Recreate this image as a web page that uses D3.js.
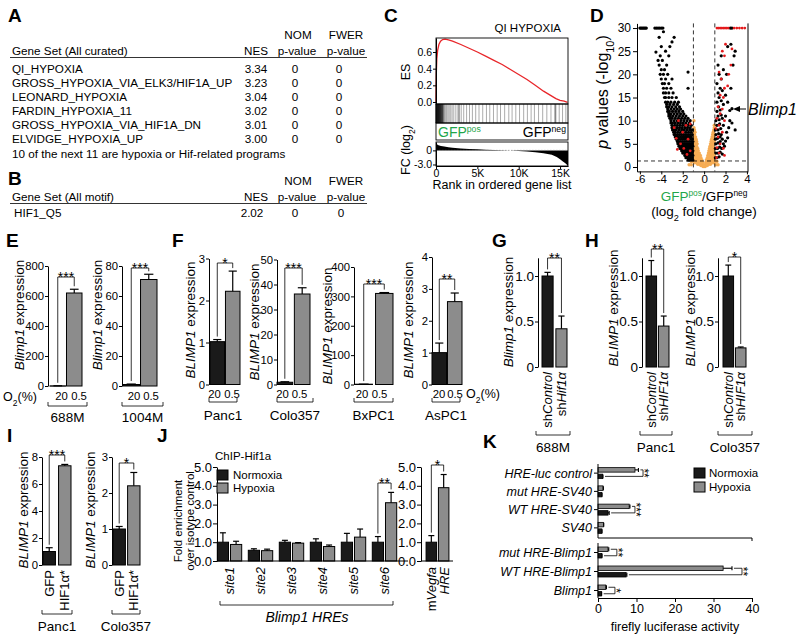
<!DOCTYPE html>
<html><head><meta charset="utf-8">
<script src="https://cdn.jsdelivr.net/npm/d3@7"></script>
<style>body{margin:0;background:#fff}svg{display:block}</style>
</head><body><svg id="fig" width="800" height="639"></svg>
<script>
// ---------------- DATA ----------------
// Panel A / B (GSEA tables)
const curatedSets = ["QI_HYPOXIA","GROSS_HYPOXIA_VIA_ELK3/HIF1A_UP","LEONARD_HYPOXIA","FARDIN_HYPOXIA_11","GROSS_HYPOXIA_VIA_HIF1A_DN","ELVIDGE_HYPOXIA_UP"];
const curatedNES = [3.34,3.23,3.04,3.02,3.01,3.00];
const curatedNOM = [0,0,0,0,0,0];
const curatedFWER = [0,0,0,0,0,0];
const curatedNote = "10 of the next 11 are hypoxia or Hif-related programs";
const motifSets = ["HIF1_Q5"];
const motifNES = [2.02];
const motifNOM = [0];
const motifFWER = [0];

// Panel C (GSEA enrichment plot)
const esRank  = [0,40,100,200,350,550,800,1100,1500,2000,3000,4000,5000,6000,7000,8000,9000,10000,11000,12000,13000,14000,14500,15000,15500,15900];
const esValue = [0,0.35,0.52,0.62,0.69,0.73,0.75,0.755,0.745,0.73,0.69,0.645,0.60,0.55,0.50,0.45,0.39,0.33,0.27,0.20,0.13,0.07,0.04,0.02,0.01,-0.005];
const hitRank = [10,30,55,80,110,140,170,200,235,270,300,340,380,420,460,500,550,600,660,720,790,870,960,1050,1180,1300,1450,1600,1780,1950,2150,2400,2650,2780,2800,3050,3350,3700,4050,4400,4800,5200,5650,6100,6500,6950,7400,7800,8300,8800,9200,9650,10100,10600,11050,11500,11900,12400,12900,13400,13900,14350,14450,14500,14900,15300,15700];
const fcRank  = [0,100,300,600,1000,1500,2000,3000,4000,5000,6000,7000,8000,9000,10000,11000,12000,13000,14000,14600,15000,15300,15600,15800,15960];
const fcValue = [1.6,1.3,1.1,0.95,0.8,0.65,0.55,0.4,0.3,0.22,0.15,0.08,0.02,-0.05,-0.13,-0.25,-0.4,-0.6,-0.95,-1.4,-1.9,-2.3,-2.7,-3.0,-3.3];

// Panel D (volcano) [log2FC, -log10 p]
const volcanoOrange = [
[-0.1,0.1],[0,0.1],[0.1,0.1],[-0.3,0.3],[-0.15,0.3],[0,0.3],[0.15,0.3],[0.3,0.3],
[-0.6,0.6],[-0.45,0.6],[-0.3,0.6],[-0.15,0.6],[0.15,0.6],[0.3,0.6],[0.45,0.6],[0.6,0.6],
[-1.4,0.5],[-1.2,0.5],[1.1,0.5],[1.3,0.5],
[-0.9,0.9],[-0.7,0.9],[-0.5,0.9],[-0.3,0.9],[-0.15,0.9],[0.15,0.9],[0.3,0.9],[0.5,0.9],[0.7,0.9],[0.9,0.9],
[-1.2,1.2],[-1.0,1.2],[-0.8,1.2],[-0.6,1.2],[-0.4,1.2],[-0.2,1.2],[0.2,1.2],[0.4,1.2],[0.6,1.2],[0.8,1.2],[1.0,1.2],[1.2,1.2],
[-0.95,1.6],[-0.75,1.6],[-0.55,1.6],[-0.35,1.6],[-0.22,1.6],[0.22,1.6],[0.35,1.6],[0.55,1.6],[0.75,1.6],[0.95,1.6],
[-0.95,2],[-0.8,2],[-0.65,2],[-0.5,2],[-0.3,2],[0.3,2],[0.5,2],[0.65,2],[0.8,2],[0.95,2],
[-0.95,2.5],[-0.8,2.5],[-0.65,2.5],[-0.5,2.5],[-0.35,2.5],[0.35,2.5],[0.5,2.5],[0.65,2.5],[0.8,2.5],[0.95,2.5],
[-0.95,3],[-0.8,3],[-0.65,3],[-0.45,3],[0.4,3],[0.55,3],[0.7,3],[0.85,3],[0.95,3],
[-0.9,3.5],[-0.75,3.5],[-0.55,3.5],[0.45,3.5],[0.6,3.5],[0.75,3.5],[0.9,3.5],
[-0.95,4],[-0.8,4],[-0.6,4],[0.5,4],[0.65,4],[0.8,4],[0.95,4],
[-0.9,4.5],[-0.7,4.5],[0.55,4.5],[0.7,4.5],[0.85,4.5],
[-0.95,5],[-0.8,5],[-0.65,5],[0.6,5],[0.75,5],[0.9,5],
[-0.85,5.5],[-0.7,5.5],[0.65,5.5],[0.8,5.5],[0.95,5.5],
[-0.9,6],[-0.75,6],[0.7,6],[0.85,6],
[-0.95,6.5],[-0.8,6.5],[0.75,6.5],[0.9,6.5],
[-0.9,7],[0.8,7],[0.95,7],[-0.95,7.5],[-0.85,7.5],[0.85,7.5],
[-0.9,8],[0.9,8],[-0.95,8.5],[0.95,8.5],[0.95,9],[-0.95,10]
];
const volcanoBlack = [
[-6.0,30],[-5.9,30],[-5.8,30],[-5.7,30],[-5.6,30],[-5.5,30],[-5.4,30],[-4.6,30],[-4.45,30],[-4.3,30],[-4.15,30],[-4.0,30],[-3.85,30],[-3.8,29.2],
[-4.2,28],[-2.8,28],[-3.0,27],[-3.2,26],[-4.0,26],[-3.6,25],[-4.5,24.8],[-3.3,24],[-4.1,24],[-3.9,23],[-4.3,23],[-3.5,22],[-4.2,22],[-3.7,21],[-4.0,21],
[-1.5,20.5],[-3.4,20],[-3.8,20],[-4.1,20],[-3.0,19],[-3.6,19],[-4.0,19],[-3.3,18],[-3.7,18],[-3.9,18],[-1.5,17],[-3.1,17],[-3.5,17],[-3.8,17],
[-2.9,16],[-3.3,16],[-3.6,16],[-3.8,16],[-2.6,15],[-3.0,15],[-3.3,15],[-3.6,15],[-3.7,15],
[-2.4,14],[-2.75,14],[-3.1,14],[-3.4,14],[-3.6,14],[-2.5,13.5],[-2.85,13.5],[-3.2,13.5],[-3.5,13.5],
[-2.3,13],[-2.65,13],[-3.0,13],[-3.3,13],[-3.5,13],[-2.2,12.5],[-2.5,12.5],[-2.8,12.5],[-3.1,12.5],[-3.4,12.5],
[-2.0,12],[-2.35,12],[-2.65,12],[-2.95,12],[-3.25,12],[-3.4,12],[-1.9,11.5],[-2.2,11.5],[-2.5,11.5],[-2.8,11.5],[-3.1,11.5],[-3.3,11.5],
[-1.7,11],[-2.0,11],[-2.3,11],[-2.6,11],[-2.9,11],[-3.15,11],[-3.3,11],[-1.5,10.5],[-1.8,10.5],[-2.1,10.5],[-2.4,10.5],[-2.7,10.5],[-3.0,10.5],[-3.2,10.5],
[-1.3,10],[-1.6,10],[-1.9,10],[-2.2,10],[-2.5,10],[-2.8,10],[-3.1,10],[-1.4,9.5],[-1.7,9.5],[-1.95,9.5],[-2.2,9.5],[-2.45,9.5],[-2.7,9.5],[-2.95,9.5],[-3.1,9.5],
[-1.2,9],[-1.5,9],[-1.75,9],[-2.0,9],[-2.25,9],[-2.5,9],[-2.75,9],[-3.0,9],[-1.3,8.5],[-1.55,8.5],[-1.8,8.5],[-2.05,8.5],[-2.3,8.5],[-2.55,8.5],[-2.8,8.5],[-3.0,8.5],
[-1.1,8],[-1.35,8],[-1.6,8],[-1.85,8],[-2.1,8],[-2.35,8],[-2.6,8],[-2.85,8],[-2.95,8],[-1.2,7.5],[-1.45,7.5],[-1.7,7.5],[-1.95,7.5],[-2.2,7.5],[-2.45,7.5],[-2.7,7.5],[-2.85,7.5],
[-1.1,7],[-1.3,7],[-1.5,7],[-1.7,7],[-1.9,7],[-2.1,7],[-2.3,7],[-2.5,7],[-2.7,7],[-2.8,7],[-1.2,6.5],[-1.4,6.5],[-1.6,6.5],[-1.8,6.5],[-2.0,6.5],[-2.2,6.5],[-2.4,6.5],[-2.6,6.5],[-2.7,6.5],
[-1.1,6],[-1.3,6],[-1.5,6],[-1.7,6],[-1.9,6],[-2.1,6],[-2.3,6],[-2.5,6],[-2.6,6],[-1.05,5.5],[-1.2,5.5],[-1.4,5.5],[-1.6,5.5],[-1.8,5.5],[-2.0,5.5],[-2.2,5.5],[-2.4,5.5],[-2.5,5.5],
[-1.1,5],[-1.3,5],[-1.5,5],[-1.7,5],[-1.9,5],[-2.1,5],[-2.3,5],[-2.45,5],[-1.05,4.5],[-1.2,4.5],[-1.35,4.5],[-1.5,4.5],[-1.65,4.5],[-1.8,4.5],[-1.95,4.5],[-2.1,4.5],[-2.25,4.5],[-2.35,4.5],
[-1.1,4],[-1.25,4],[-1.4,4],[-1.55,4],[-1.7,4],[-1.85,4],[-2.0,4],[-2.15,4],[-2.25,4],[-1.05,3.5],[-1.2,3.5],[-1.35,3.5],[-1.5,3.5],[-1.65,3.5],[-1.8,3.5],[-1.95,3.5],[-2.1,3.5],
[-1.1,3],[-1.25,3],[-1.4,3],[-1.55,3],[-1.7,3],[-1.85,3],[-2.0,3],[-1.05,2.5],[-1.2,2.5],[-1.35,2.5],[-1.5,2.5],[-1.65,2.5],[-1.8,2.5],
[-1.1,2],[-1.25,2],[-1.4,2],[-1.55,2],[-1.7,2],[-1.05,1.5],[-1.2,1.5],[-1.35,1.5],[-1.5,1.5],
[1.05,2],[1.2,2],[1.4,2.2],[1.1,3],[1.3,3],[1.5,3.2],[1.7,2.8],[1.05,4],[1.25,4],[1.45,4.3],[1.65,4],[1.9,4.5],[1.1,5],[1.3,5.2],[1.5,5.5],[1.8,5],[2.0,5.6],
[1.05,6],[1.25,6.2],[1.5,6.5],[1.7,6],[2.2,6.3],[1.1,7],[1.35,7.2],[1.6,7],[2.1,7.5],[1.05,8],[1.3,8],[1.55,8.3],[2.3,8.5],[2.9,8],[1.2,9],[1.45,9.3],[1.8,9],[2.6,9.5],
[1.1,10],[1.4,10.2],[1.7,10.5],[2.4,10],[1.3,11],[1.6,11.2],[2.0,11],[1.2,12],[1.5,12.3],[2.4,12.2],[2.6,12.6],[1.35,13],[1.8,13.5],[1.2,14],[1.6,14.3],[2.2,14],
[1.4,15],[2.0,15.5],[1.3,16],[1.7,16.5],[1.5,17],[2.5,17],[1.2,18],[1.6,19],[1.4,20],[2.1,20],[1.8,21],[1.3,22],[2.7,22],[2.8,24],[1.6,24],[2.9,25],[2.2,26],[2.5,26.5],[2.45,30],[2.6,30]
];
const volcanoRed = [
[1.2,30],[1.35,30],[1.5,30],[1.65,30],[1.8,30],[1.95,30],[2.1,30],[2.25,30],[2.8,30],[3.05,30],[3.3,30],[3.55,30],[3.8,30],
[2.0,26.5],[1.7,25],[2.6,25.5],[1.9,24],[2.5,22],[1.4,20.5],[2.3,20],[1.6,19],[1.9,17],[2.2,17.5],[1.5,15.5],[1.8,15],[1.3,13],[1.7,12.5],[1.5,11.5],[1.2,10.5],
[1.9,10],[1.4,9],[1.1,8.3],[1.7,7.5],[1.3,6.5],[1.5,5],[1.2,4.2],[1.8,4],[1.4,3],[1.9,2.5],[1.15,2],
[-1.3,9.3],[-2.4,10],[-1.7,9],[-2.0,7.5],[-2.6,6.2],[-1.5,6],[-2.2,5],[-1.9,4],[-1.3,3.5],[-2.8,8.5],[-1.6,2.7],[-2.5,3.8]
];

// Panels E-I (two-bar qPCR panels): means and SEM
const o2Levels = ["20","0.5"];
const e688Mean = [1.0,620], e688Sem = [0.5,25];
const e1004Mean = [1.0,71], e1004Sem = [0.3,3.5];
const fPanc1Mean = [1.02,2.22], fPanc1Sem = [0.05,0.48];
const fColoMean = [0.9,36.2], fColoSem = [0.2,2.5];
const fBxMean = [1.0,310], fBxSem = [0.3,3];
const fAsMean = [1.0,2.6], fAsSem = [0.3,0.27];
const gMean = [1.0,0.42], gSem = [0.04,0.14];
const hPanc1Mean = [1.0,0.45], hPanc1Sem = [0.17,0.11];
const hColoMean = [1.0,0.21], hColoSem = [0.12,0.01];
const iPanc1Mean = [1.0,7.35], iPanc1Sem = [0.28,0.1];
const iColoMean = [1.0,2.2], iColoSem = [0.07,0.37];

// Panel J (ChIP)
const jSites = ["site1","site2","site3","site4","site5","site6"];
const jNormoxia = [1.0,0.57,1.0,1.0,1.0,1.0];
const jNormoxiaSem = [0.5,0.08,0.1,0.18,0.47,0.3];
const jHypoxia = [0.88,0.55,0.95,0.77,1.27,3.1];
const jHypoxiaSem = [0.17,0.08,0.03,0.08,0.43,0.55];
const jVegfa = [1.0,3.9];
const jVegfaSem = [0.35,0.7];

// Panel K (luciferase)
const kUpper = ["HRE-luc control","mut HRE-SV40","WT HRE-SV40","SV40"];
const kLower = ["mut HRE-Blimp1","WT HRE-Blimp1","Blimp1"];
const kHypUpper = [9.6,1.3,8.1,1.4], kHypUpperSem = [0.9,0.1,0.2,0.1];
const kNorUpper = [1.2,1.0,2.6,1.0], kNorUpperSem = [0.1,0.05,0.3,0.05];
const kHypLower = [2.6,32.5,2.0], kHypLowerSem = [0.2,2.3,0.2];
const kNorLower = [1.0,7.3,0.9], kNorLowerSem = [0.05,0.2,0.05];
const kTicks = [0,10,20,30,40];

// ---------------- DRAWING ----------------
const FONT = "'Liberation Sans', Arial, Helvetica, sans-serif";
const svg = d3.select("#fig").attr("font-family", FONT);
svg.append("rect").attr("width",800).attr("height",639).attr("fill","#fff");
const BAR = ["#1a1a1a","#8c8c8c"];
const GREEN = "#1fa64a";

function rt(g,x,y,parts,o={}){
  const t = g.append("text").attr("x",x).attr("y",y).attr("font-size",o.fs||12)
    .attr("text-anchor",o.anchor||"start").attr("fill",o.fill||"#000");
  if(o.rot!=null) t.attr("transform",`rotate(${o.rot},${x},${y})`);
  if(o.dy) t.attr("dy",o.dy);
  if(o.weight) t.attr("font-weight",o.weight);
  if(o.italic) t.attr("font-style","italic");
  (typeof parts==="string"?[{t:parts}]:parts).forEach(p=>{
    const s=t.append("tspan").text(p.t);
    if(p.i) s.attr("font-style","italic");
    if(p.sub) s.attr("baseline-shift","sub").attr("font-size","68%");
    if(p.sup) s.attr("baseline-shift","super").attr("font-size","62%");
    if(p.fill) s.attr("fill",p.fill);
  });
  return t;
}
function styleAxis(ag,fs){
  ag.attr("font-size",fs).attr("font-family",FONT);
  ag.selectAll("path,line").attr("stroke","#000").attr("stroke-width",1);
  ag.selectAll("text").attr("fill","#000");
}
function line(g,x1,y1,x2,y2,w=1,dash=null,col="#000"){
  const l=g.append("line").attr("x1",x1).attr("y1",y1).attr("x2",x2).attr("y2",y2).attr("stroke",col).attr("stroke-width",w);
  if(dash) l.attr("stroke-dasharray",dash);
  return l;
}

// Panel letters
[["A",8,22],["B",8,185],["C",384,22],["D",590,22],["E",6,247],["F",172,247],["G",492,247],["H",585,247],["I",7,442],["J",157,442],["K",483,448]]
 .forEach(([t,x,y])=>rt(svg,x,y,t,{fs:19,weight:"bold"}));

// ---- Panel A & B ----
const gA = svg.append("g");
const fsT = 11.7;
function tableHeader(yTop, title){
  rt(gA,298,yTop,"NOM",{anchor:"middle",fs:fsT});
  rt(gA,346,yTop,"FWER",{anchor:"middle",fs:fsT});
  rt(gA,12,yTop+16,title,{fs:fsT});
  rt(gA,256,yTop+16,"NES",{anchor:"middle",fs:fsT});
  rt(gA,297,yTop+16,"p-value",{anchor:"middle",fs:fsT});
  rt(gA,346,yTop+16,"p-value",{anchor:"middle",fs:fsT});
  line(gA,10,yTop+18.5,367,yTop+18.5,0.8);
}
tableHeader(39,"Gene Set (All curated)");
curatedSets.forEach((s,i)=>{
  const y=73+i*14.08;
  rt(gA,12,y,s,{fs:fsT});
  rt(gA,256,y,curatedNES[i].toFixed(2),{anchor:"middle",fs:fsT});
  rt(gA,295,y,String(curatedNOM[i]),{anchor:"middle",fs:fsT});
  rt(gA,339,y,String(curatedFWER[i]),{anchor:"middle",fs:fsT});
});
rt(gA,12,158,curatedNote,{fs:fsT});
tableHeader(185,"Gene Set (All motif)");
motifSets.forEach((s,i)=>{
  const y=217+i*14;
  rt(gA,14,y,s,{fs:fsT});
  rt(gA,252,y,motifNES[i].toFixed(2),{anchor:"middle",fs:fsT});
  rt(gA,295,y,String(motifNOM[i]),{anchor:"middle",fs:fsT});
  rt(gA,341,y,String(motifFWER[i]),{anchor:"middle",fs:fsT});
});

// ---- Panel C ----
const gC = svg.append("g");
const xC = d3.scaleLinear().domain([0,15960]).range([436,568]);
const yES = d3.scaleLinear().domain([-0.024,0.768]).range([104,38]);
const yFC = d3.scaleLinear().domain([-3.32,1.78]).range([166,142]);
gC.selectAll("line.hit").data(hitRank).join("line").attr("class","hit")
  .attr("x1",d=>xC(d)).attr("x2",d=>xC(d)).attr("y1",104).attr("y2",123)
  .attr("stroke","#111").attr("stroke-width",0.7).attr("stroke-opacity",d=>d<900?0.95:0.5);
gC.append("path").datum(fcRank.map((r,i)=>[r,fcValue[i]]))
  .attr("d",d3.area().x(d=>xC(d[0])).y0(yFC(0)).y1(d=>yFC(d[1]))).attr("fill","#000");
line(gC,436,yFC(0),568,yFC(0),0.7,"1.5,1.5","#888");
gC.append("path").datum(esRank.map((r,i)=>[r,esValue[i]]))
  .attr("d",d3.line().x(d=>xC(d[0])).y(d=>yES(d[1]))).attr("fill","none").attr("stroke","#e8262a").attr("stroke-width",1.3);
[[38,104],[104,123],[123,140],[142,166]].forEach(([a,b])=>gC.append("rect").attr("x",436).attr("y",a).attr("width",132).attr("height",b-a).attr("fill","none").attr("stroke","#000").attr("stroke-width",0.9));
styleAxis(gC.append("g").attr("transform","translate(436,0)").call(d3.axisLeft(yES).tickValues([0,0.2,0.4,0.6]).tickFormat(d3.format(".1f")).tickSize(3).tickSizeOuter(0).tickPadding(1)),10.5);
styleAxis(gC.append("g").attr("transform","translate(436,0)").call(d3.axisLeft(yFC).tickValues([0,-3]).tickFormat(d=>d===0?"0":"-3.0").tickSize(3).tickSizeOuter(0).tickPadding(1)),10.5);
styleAxis(gC.append("g").attr("transform","translate(0,166)").call(d3.axisBottom(xC).tickValues([0,5000,10000,15000]).tickFormat(d=>d===0?"0":(d/1000)+"K").tickSize(3).tickSizeOuter(0).tickPadding(1)),10.5);
rt(gC,561,32,"QI HYPOXIA",{anchor:"end",fs:11.5});
rt(gC,406,72,"ES",{rot:-90,anchor:"middle",dy:"0.35em",fs:12.5});
rt(gC,406,150,[{t:"FC (log"},{t:"2",sub:true},{t:")"}],{rot:-90,anchor:"middle",dy:"0.35em",fs:12.5});
rt(gC,438,137,[{t:"GFP"},{t:"pos",sup:true}],{fs:14,fill:GREEN});
rt(gC,566,137,[{t:"GFP"},{t:"neg",sup:true}],{fs:14,anchor:"end"});
rt(gC,502,189,"Rank in ordered gene list",{anchor:"middle",fs:12.5});

// ---- Panel D ----
const gD = svg.append("g");
const xD = d3.scaleLinear().domain([-6.27,4.1]).range([637,748]);
const yD = d3.scaleLinear().domain([-0.95,31]).range([171.4,23.4]);
gD.selectAll("circle.o").data(volcanoOrange).join("circle").attr("cx",d=>xD(d[0])).attr("cy",d=>yD(d[1])).attr("r",1.7).attr("fill","#f6ad55");
gD.selectAll("circle.b").data(volcanoBlack).join("circle").attr("cx",d=>xD(d[0])).attr("cy",d=>yD(d[1])).attr("r",1.6).attr("fill","#000");
gD.selectAll("circle.r").data(volcanoRed).join("circle").attr("cx",d=>xD(d[0])).attr("cy",d=>yD(d[1])).attr("r",1.4).attr("fill","#e41a1c");
line(gD,xD(-1),23.4,xD(-1),171.4,0.8,"4,3");
line(gD,xD(1),23.4,xD(1),171.4,0.8,"4,3");
line(gD,637,yD(1.3),748,yD(1.3),0.8,"4,3");
line(gD,748,23.4,748,171.4,1);
styleAxis(gD.append("g").attr("transform","translate(637,0)").call(d3.axisLeft(yD).tickValues([0,5,10,15,20,25,30]).tickSize(4).tickSizeOuter(0).tickPadding(2)),12);
styleAxis(gD.append("g").attr("transform","translate(0,171.4)").call(d3.axisBottom(xD).tickValues([-6,-4,-2,0,2,4]).tickFormat(d=>d<0?"-"+Math.abs(d):String(d)).tickSize(3).tickSizeOuter(0).tickPadding(0)),11.5);
rt(gD,602,92,[{t:"p",i:true},{t:" values (-log"},{t:"10",sub:true},{t:")"}],{rot:-90,anchor:"middle",dy:"0.35em",fs:16});
rt(gD,704,201,[{t:"GFP",fill:GREEN},{t:"pos",sup:true,fill:GREEN},{t:"/GFP"},{t:"neg",sup:true}],{anchor:"middle",fs:13.5});
rt(gD,704,216,[{t:"(log"},{t:"2",sub:true},{t:" fold change)"}],{anchor:"middle",fs:13.5});
gD.append("path").attr("d","M733,109 l7,-3 v6 z").attr("fill","#000");
line(gD,739,109,746,109,1);
rt(gD,748,114.5,"Blimp1",{fs:16,italic:true});

// ---- two-bar helper ----
function twoBar(c){
  const g = svg.append("g");
  const y = d3.scaleLinear().domain([0,c.max]).range([c.base,c.top]);
  const x = d3.scaleBand().domain(c.means.map((d,i)=>i)).range(c.band).paddingInner(c.pad);
  const cx = i => x(i)+x.bandwidth()/2;
  styleAxis(g.append("g").attr("transform",`translate(${c.axisX},0)`)
    .call(d3.axisLeft(y).tickValues(c.ticks).tickFormat(c.fmt||(d=>String(d))).tickSize(3).tickSizeOuter(0).tickPadding(1)), c.tfs||11.3);
  g.selectAll("rect.bar").data(c.means).join("rect").attr("x",(d,i)=>x(i)).attr("y",d=>y(d))
    .attr("width",x.bandwidth()).attr("height",d=>Math.max(0.3,c.base-y(d))).attr("fill",(d,i)=>BAR[i]).attr("stroke","#000").attr("stroke-width",1);
  c.means.forEach((m,i)=>{
    const yt=y(m+c.sems[i]), w=x.bandwidth()*0.28;
    line(g,cx(i),y(m),cx(i),yt,1.2);
    line(g,cx(i)-w,yt,cx(i)+w,yt,1.2);
  });
  const yl=y(c.means[0]+c.sems[0])-3, yr=y(c.means[1]+c.sems[1])-3;
  g.append("path").attr("d",`M${cx(0)},${yl}V${c.bracketY}H${cx(1)}V${yr}`).attr("fill","none").attr("stroke","#000").attr("stroke-width",0.8);
  rt(g,(cx(0)+cx(1))/2,c.bracketY+4.5,c.stars,{anchor:"middle",fs:14});
  rt(g,c.ylab.x,c.ylab.cy,c.ylab.parts,{rot:-90,anchor:"middle",dy:"0.35em",fs:13.5});
  if(c.xlab.type==="h") c.xlab.labels.forEach((l,i)=>rt(g,c.xlab.xs[i],c.xlab.y,l,{anchor:"middle",fs:11.3}));
  else c.xlab.labels.forEach((l,i)=>rt(g,cx(i),c.xlab.y,l,{rot:-90,anchor:"end",dy:"0.35em",fs:13}));
  const G=c.group;
  g.append("path").attr("d",`M${G.x0},${G.y-4}V${G.y}H${G.x1}V${G.y-4}`).attr("fill","none").attr("stroke","#000").attr("stroke-width",0.8);
  rt(g,(G.x0+G.x1)/2,G.ly,G.label,{anchor:"middle",fs:13.5});
}
const blimpLab = [{t:"Blimp1",i:true},{t:" expression"}];
const BLIMPLab = [{t:"BLIMP1",i:true},{t:" expression"}];
const hFmt = d=>d===0?"0":d.toFixed(1);

// E
twoBar({axisX:48,base:386,top:266,max:800,ticks:[0,200,400,600,800],band:[50,82],pad:0.06,means:e688Mean,sems:e688Sem,bracketY:277,stars:"***",
  ylab:{x:19,cy:315,parts:blimpLab},xlab:{type:"h",labels:o2Levels,y:400,xs:[61.5,79]},group:{label:"688M",x0:48,x1:87,y:406,ly:422}});
twoBar({axisX:122,base:386,top:266,max:80,ticks:[0,20,40,60,80],band:[123,157],pad:0.06,means:e1004Mean,sems:e1004Sem,bracketY:268,stars:"***",
  ylab:{x:97,cy:315,parts:blimpLab},xlab:{type:"h",labels:o2Levels,y:400,xs:[134,151]},group:{label:"1004M",x0:122,x1:163,y:406,ly:422}});
rt(svg,3,401,[{t:"O"},{t:"2",sub:true},{t:"(%)"}],{fs:12.5});
// F
twoBar({axisX:209,base:384.5,top:258.5,max:3,ticks:[0,1,2,3],band:[210,240],pad:0.06,means:fPanc1Mean,sems:fPanc1Sem,bracketY:263,stars:"*",
  ylab:{x:190,cy:320,parts:BLIMPLab},xlab:{type:"h",labels:o2Levels,y:398,xs:[214.5,232]},group:{label:"Panc1",x0:209,x1:237,y:402,ly:420}});
twoBar({axisX:277,base:384.5,top:259.5,max:50,ticks:[0,10,20,30,40,50],band:[277,310],pad:0.1,means:fColoMean,sems:fColoSem,bracketY:268,stars:"***",
  ylab:{x:254,cy:322,parts:BLIMPLab},xlab:{type:"h",labels:o2Levels,y:398,xs:[282.5,299.5]},group:{label:"Colo357",x0:277,x1:313,y:402,ly:420}});
twoBar({axisX:354,base:384.5,top:267,max:400,ticks:[0,100,200,300,400],band:[355,393],pad:0.15,means:fBxMean,sems:fBxSem,bracketY:284,stars:"***",
  ylab:{x:327,cy:326,parts:BLIMPLab},xlab:{type:"h",labels:o2Levels,y:398,xs:[362,379.5]},group:{label:"BxPC1",x0:354,x1:393,y:402,ly:420}});
twoBar({axisX:432,base:384.5,top:257,max:4,ticks:[0,1,2,3,4],band:[432,462],pad:0.06,means:fAsMean,sems:fAsSem,bracketY:279,stars:"**",
  ylab:{x:408,cy:320,parts:BLIMPLab},xlab:{type:"h",labels:o2Levels,y:398,xs:[439,455]},group:{label:"AsPC1",x0:432,x1:460,y:402,ly:420}});
rt(svg,466,398,[{t:"O"},{t:"2",sub:true},{t:"(%)"}],{fs:12.5});
// G
const shCtrl = [{t:"sh"},{t:"Control",i:true}];
twoBar({axisX:538,base:367,top:257.8,max:1.2,ticks:[0,0.5,1],fmt:hFmt,tfs:13.5,band:[542,567],pad:0.2,means:gMean,sems:gSem,bracketY:258,stars:"**",
  ylab:{x:508,cy:312,parts:blimpLab},xlab:{type:"r",labels:[shCtrl,[{t:"sh"},{t:"Hif1α",i:true}]],y:372},group:{label:"688M",x0:536,x1:570,y:435,ly:452}});
// H
twoBar({axisX:642,base:367,top:257.8,max:1.2,ticks:[0,0.5,1],fmt:hFmt,tfs:13.5,band:[646,669],pad:0.15,means:hPanc1Mean,sems:hPanc1Sem,bracketY:249,stars:"**",
  ylab:{x:613,cy:308,parts:BLIMPLab},xlab:{type:"r",labels:[shCtrl,[{t:"sh"},{t:"HIF1α",i:true}]],y:372},group:{label:"Panc1",x0:640,x1:672,y:435,ly:452}});
twoBar({axisX:718,base:367,top:257.8,max:1.2,ticks:[0,0.5,1],fmt:hFmt,tfs:13.5,band:[723,746],pad:0.15,means:hColoMean,sems:hColoSem,bracketY:257,stars:"*",
  ylab:{x:690,cy:308,parts:BLIMPLab},xlab:{type:"r",labels:[shCtrl,[{t:"sh"},{t:"HIF1α",i:true}]],y:372},group:{label:"Colo357",x0:718,x1:752,y:435,ly:452}});
// I
twoBar({axisX:42,base:565,top:457,max:8,ticks:[0,2,4,6,8],band:[43,71],pad:0.2,means:iPanc1Mean,sems:iPanc1Sem,bracketY:455,stars:"***",
  ylab:{x:23,cy:510,parts:BLIMPLab},xlab:{type:"r",labels:["GFP","HIF1α*"],y:570},group:{label:"Panc1",x0:42,x1:72,y:614,ly:631}});
twoBar({axisX:112,base:565,top:457,max:3,ticks:[0,1,2,3],band:[113,140],pad:0.15,means:iColoMean,sems:iColoSem,bracketY:463,stars:"*",
  ylab:{x:90,cy:510,parts:BLIMPLab},xlab:{type:"r",labels:["GFP","HIF1α*"],y:570},group:{label:"Colo357",x0:112,x1:140,y:614,ly:631}});

// ---- Panel J ----
const gJ = svg.append("g");
const yJ = d3.scaleLinear().domain([0,5]).range([561,467]);
const xJ = d3.scaleBand().domain(jSites).range([214,400]);
const xJin = d3.scaleBand().domain(["N","H"]).range([0,xJ.bandwidth()]).paddingInner(0.15).paddingOuter(0.25);
function errV(g,cx,m,s,scale,w){ const yt=scale(m+s); line(g,cx,scale(m),cx,yt,1.2); line(g,cx-w,yt,cx+w,yt,1.2); }
jSites.forEach((s,i)=>{
  [["N",jNormoxia[i],jNormoxiaSem[i],0],["H",jHypoxia[i],jHypoxiaSem[i],1]].forEach(([k,m,se,ci])=>{
    const x0=xJ(s)+xJin(k);
    gJ.append("rect").attr("x",x0).attr("y",yJ(m)).attr("width",xJin.bandwidth()).attr("height",561-yJ(m)).attr("fill",BAR[ci]).attr("stroke","#000").attr("stroke-width",1);
    errV(gJ,x0+xJin.bandwidth()/2,m,se,yJ,3);
  });
  rt(gJ,xJ(s)+xJ.bandwidth()/2,567,s,{rot:-90,anchor:"end",dy:"0.35em",fs:13,italic:true});
});
line(gJ,217,561,408,561,1);
styleAxis(gJ.append("g").attr("transform","translate(217,0)").call(d3.axisLeft(yJ).tickValues([0,1,2,3,4,5]).tickSize(4).tickSizeOuter(0).tickPadding(1)),13);
{ const s="site6", cN=xJ(s)+xJin("N")+xJin.bandwidth()/2, cH=xJ(s)+xJin("H")+xJin.bandwidth()/2, i=5;
  gJ.append("path").attr("d",`M${cN},${yJ(jNormoxia[i]+jNormoxiaSem[i])-3}V483H${cH}V${yJ(jHypoxia[i]+jHypoxiaSem[i])-3}`).attr("fill","none").attr("stroke","#000").attr("stroke-width",0.8);
  rt(gJ,(cN+cH)/2,487.5,"**",{anchor:"middle",fs:14}); }
gJ.append("path").attr("d","M220,601V605H393V601").attr("fill","none").attr("stroke","#000").attr("stroke-width",0.8);
rt(gJ,307,622,"Blimp1 HREs",{anchor:"middle",fs:14,italic:true});
rt(gJ,215,460,"ChIP-Hif1a",{fs:11.5});
gJ.append("rect").attr("x",217).attr("y",470).attr("width",11).attr("height",10).attr("fill",BAR[0]).attr("stroke","#000");
gJ.append("rect").attr("x",217).attr("y",483).attr("width",11).attr("height",10).attr("fill",BAR[1]).attr("stroke","#000");
rt(gJ,233,479,"Normoxia",{fs:11.5});
rt(gJ,233,492,"Hypoxia",{fs:11.5});
rt(gJ,178,521,"Fold enrichment",{rot:-90,anchor:"middle",dy:"0.35em",fs:11.5});
rt(gJ,190,521,"over isotype control",{rot:-90,anchor:"middle",dy:"0.35em",fs:11.5});
// mVegfa
const xV = d3.scaleBand().domain(["N","H"]).range([423,452]).paddingInner(0.15).paddingOuter(0.25);
jVegfa.forEach((m,i)=>{
  const k=i===0?"N":"H";
  gJ.append("rect").attr("x",xV(k)).attr("y",yJ(m)).attr("width",xV.bandwidth()).attr("height",561-yJ(m)).attr("fill",BAR[i]).attr("stroke","#000").attr("stroke-width",1);
  errV(gJ,xV(k)+xV.bandwidth()/2,m,jVegfaSem[i],yJ,3);
});
line(gJ,421,561,453,561,1);
styleAxis(gJ.append("g").attr("transform","translate(421,0)").call(d3.axisLeft(yJ).tickValues([0,1,2,3,4,5]).tickSize(4).tickSizeOuter(0).tickPadding(1)),13);
{ const cN=xV("N")+xV.bandwidth()/2, cH=xV("H")+xV.bandwidth()/2;
  gJ.append("path").attr("d",`M${cN},${yJ(jVegfa[0]+jVegfaSem[0])-3}V465H${cH}V${yJ(jVegfa[1]+jVegfaSem[1])-3}`).attr("fill","none").attr("stroke","#000").attr("stroke-width",0.8);
  rt(gJ,(cN+cH)/2,469.5,"*",{anchor:"middle",fs:14});
  rt(gJ,cN,567,[{t:"m"},{t:"Vegfa",i:true}],{rot:-90,anchor:"end",dy:"0.35em",fs:13});
  rt(gJ,cH+1,567,"HRE",{rot:-90,anchor:"end",dy:"0.35em",fs:13,italic:true}); }

// ---- Panel K ----
const gK = svg.append("g");
const xK = d3.scaleLinear().domain([0,40]).range([598,752]);
const yKU = d3.scaleBand().domain(kUpper).range([464,537]);
const yKL = d3.scaleBand().domain(kLower).range([543,600]);
const kBrackets = {"HRE-luc control":[11.7,"**"],"WT HRE-SV40":[9.6,"***"],"mut HRE-Blimp1":[4.9,"**"],"WT HRE-Blimp1":[37.4,"**"],"Blimp1":[4.4,"*"]};
function kRows(names,scale,hyp,hypS,nor,norS){
  names.forEach((n,i)=>{
    const c=scale(n)+scale.bandwidth()/2;
    const rows=[[hyp[i],hypS[i],c-5.5,1],[nor[i],norS[i],c+1,0]];
    rows.forEach(([v,s,y0,ci])=>{
      gK.append("rect").attr("x",xK(0)).attr("y",y0).attr("width",xK(v)-xK(0)).attr("height",4.5).attr("fill",BAR[ci]).attr("stroke","#000").attr("stroke-width",0.8);
      const xe=xK(v+s), ym=y0+2.25;
      line(gK,xK(v),ym,xe,ym,1.1); line(gK,xe,ym-2,xe,ym+2,1.1);
    });
    line(gK,594,c,598,c,1);
    rt(gK,592,c,n,{anchor:"end",dy:"0.35em",fs:12.5,italic:true});
    if(kBrackets[n]){
      const [bv,st]=kBrackets[n], bx=xK(bv), hy=c-3.25, ny=c+3.25;
      gK.append("path").attr("d",`M${xK(hyp[i]+hypS[i])+2},${hy}H${bx}V${ny}H${xK(nor[i]+norS[i])+2}`).attr("fill","none").attr("stroke","#000").attr("stroke-width",0.8);
      rt(gK,bx-3,c,st,{rot:90,anchor:"middle",fs:12});
    }
  });
}
kRows(kUpper,yKU,kHypUpper,kHypUpperSem,kNorUpper,kNorUpperSem);
kRows(kLower,yKL,kHypLower,kHypLowerSem,kNorLower,kNorLowerSem);
line(gK,598,464,598,538,1);
line(gK,598,538,752,538,1);
line(gK,752,538,752,541,1);
line(gK,598,543,598,598,1);
styleAxis(gK.append("g").attr("transform","translate(0,598)").call(d3.axisBottom(xK).tickValues(kTicks).tickSize(4).tickSizeOuter(0).tickPadding(2)),12.5);
rt(gK,675,631,"firefly luciferase activity",{anchor:"middle",fs:12.5});
gK.append("rect").attr("x",694).attr("y",468).attr("width",11).attr("height",10).attr("fill",BAR[0]).attr("stroke","#000");
gK.append("rect").attr("x",694).attr("y",482).attr("width",11).attr("height",10).attr("fill",BAR[1]).attr("stroke","#000");
rt(gK,709,477,"Normoxia",{fs:11.5});
rt(gK,709,491,"Hypoxia",{fs:11.5});
</script></body></html>
